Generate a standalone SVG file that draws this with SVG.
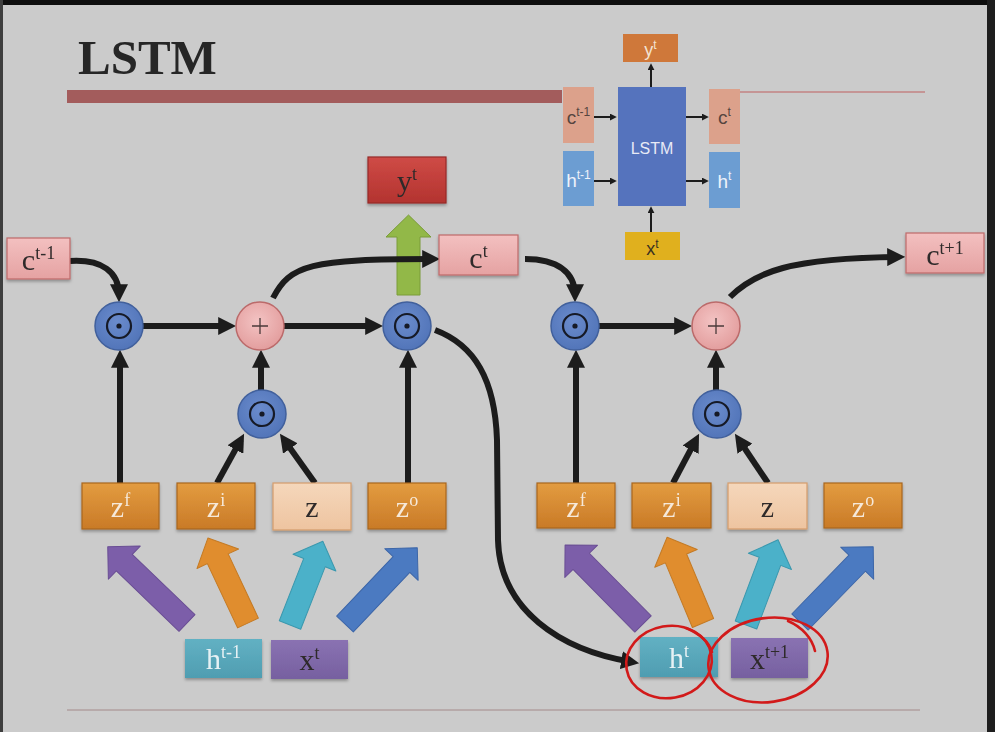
<svg xmlns="http://www.w3.org/2000/svg" width="995" height="732" viewBox="0 0 995 732">
<defs>
<style>
.conn{fill:none;stroke:#1c1c1c;stroke-width:6;marker-end:url(#ah)}
.iconn{fill:none;stroke:#1c1c1c;stroke-width:2;marker-end:url(#ahs)}
.serif{font-family:"Liberation Serif","Times New Roman",serif;font-size:30px;text-anchor:middle}
.sup{font-size:18px}
.sans{font-family:"Liberation Sans",Arial,sans-serif;text-anchor:middle}
.isup{font-size:12px}
.gate{fill:url(#gOrange);stroke:#a8661e;stroke-width:1.2}
.cand{fill:url(#gPeach);stroke:#d49c6c;stroke-width:1.2}
.cell{fill:url(#gPink);stroke:#bf6a6a;stroke-width:1.2}
.light{fill:#f6e9da}
.dark{fill:#2e2a2a}
.mul{fill:url(#gBlue);stroke:#41609c;stroke-width:1.5}
.ring{fill:none;stroke:#161a26;stroke-width:2.2}
.add{fill:url(#gPinkC);stroke:#bb6a6a;stroke-width:1.5}
.plus{stroke:#4a3a3a;stroke-width:1.3}
.fat{stroke-width:1;stroke-linejoin:round}
.red{fill:none;stroke:#d21a1a;stroke-width:2.6;stroke-linecap:round}
</style>
<marker id="ah" viewBox="0 0 10 10" refX="6" refY="5" markerWidth="3" markerHeight="3" orient="auto" markerUnits="strokeWidth"><path d="M0,0 L10,5 L0,10 z" fill="#1c1c1c"/></marker>
<marker id="ahs" viewBox="0 0 10 10" refX="6" refY="5" markerWidth="3.5" markerHeight="3.5" orient="auto" markerUnits="strokeWidth"><path d="M0,0 L10,5 L0,10 z" fill="#1c1c1c"/></marker>
<linearGradient id="gOrange" x1="0" y1="0" x2="0" y2="1"><stop offset="0" stop-color="#e39c40"/><stop offset="1" stop-color="#c97a27"/></linearGradient>
<linearGradient id="gPeach" x1="0" y1="0" x2="0" y2="1"><stop offset="0" stop-color="#f5d7bb"/><stop offset="1" stop-color="#eec4a0"/></linearGradient>
<linearGradient id="gPink" x1="0" y1="0" x2="0" y2="1"><stop offset="0" stop-color="#f3c0c0"/><stop offset="1" stop-color="#e5a2a2"/></linearGradient>
<linearGradient id="gRed" x1="0" y1="0" x2="0" y2="1"><stop offset="0" stop-color="#cf4b46"/><stop offset="1" stop-color="#b3332f"/></linearGradient>
<linearGradient id="gTeal" x1="0" y1="0" x2="0" y2="1"><stop offset="0" stop-color="#62b1c3"/><stop offset="1" stop-color="#4f9db1"/></linearGradient>
<linearGradient id="gPurple" x1="0" y1="0" x2="0" y2="1"><stop offset="0" stop-color="#8a72b2"/><stop offset="1" stop-color="#7660a0"/></linearGradient>
<radialGradient id="gBlue" cx="0.45" cy="0.4" r="0.6"><stop offset="0" stop-color="#6a8bcc"/><stop offset="1" stop-color="#5275b9"/></radialGradient>
<radialGradient id="gPinkC" cx="0.45" cy="0.4" r="0.6"><stop offset="0" stop-color="#f3c3c3"/><stop offset="1" stop-color="#e39e9e"/></radialGradient>
<filter id="sh" x="-10%" y="-10%" width="130%" height="140%"><feDropShadow dx="0" dy="2" stdDeviation="1.5" flood-color="#000" flood-opacity="0.3"/></filter>
</defs>

<rect x="0" y="0" width="995" height="732" fill="#cbcbcb"/>
<rect x="0" y="0" width="995" height="5" fill="#0e0e0e"/>
<rect x="987" y="0" width="8" height="732" fill="#1e1e1e"/>
<rect x="0" y="0" width="3" height="732" fill="#3e3e3e"/>

<g id="title">
<text x="78" y="74" font-family="Liberation Serif,'Times New Roman',serif" font-weight="bold" font-size="49" fill="#262626">LSTM</text>
<rect x="67" y="90" width="495" height="13" fill="#a35c5c"/>
<line x1="740" y1="92" x2="925" y2="92" stroke="#c06060" stroke-width="1.2"/>
<line x1="67" y1="710" x2="920" y2="710" stroke="#a48a8a" stroke-width="1"/>
</g>

<g id="inset">
<g id="inset-y"><rect x="623" y="34" width="55" height="28" fill="#cf783a"/><text x="650.5" y="56" class="sans" font-size="18" fill="#f3e2d2">y<tspan class="isup" dy="-7">t</tspan></text></g>
<g id="inset-lstm"><rect x="618" y="87" width="68" height="119" fill="#5573bd"/><text x="652" y="154" class="sans" font-size="16" fill="#e8eaf6">LSTM</text></g>
<g id="inset-cprev"><rect x="563" y="87" width="31" height="56" fill="#dca18b"/><text x="578.5" y="124" class="sans" font-size="19" fill="#55453f">c<tspan class="isup" dy="-8">t-1</tspan></text></g>
<g id="inset-hprev"><rect x="563" y="151" width="31" height="55" fill="#6c9dd2"/><text x="578.5" y="187" class="sans" font-size="19" fill="#eef2fa">h<tspan class="isup" dy="-8">t-1</tspan></text></g>
<g id="inset-c"><rect x="709" y="89" width="31" height="55" fill="#dca18b"/><text x="724.5" y="124" class="sans" font-size="19" fill="#55453f">c<tspan class="isup" dy="-8">t</tspan></text></g>
<g id="inset-h"><rect x="709" y="152" width="31" height="56" fill="#6c9dd2"/><text x="724.5" y="188" class="sans" font-size="19" fill="#eef2fa">h<tspan class="isup" dy="-8">t</tspan></text></g>
<g id="inset-x"><rect x="625" y="232" width="55" height="28" fill="#e0b01e"/><text x="652.5" y="255" class="sans" font-size="18" fill="#3a3220">x<tspan class="isup" dy="-7">t</tspan></text></g>
</g>

<g id="fat-arrows">
<polygon id="arrow-y" class="fat" fill="#92b848" stroke="#7a9c38" points="397,295 397,237 386,237 408.5,215 431,237 420,237 420,295"/>
<polygon class="fat" fill="#7c5ea9" stroke="#6a4e94" transform="translate(187,623) rotate(-136.1)" points="0,-11.5 87,-11.5 87,-23 110,0 87,23 87,11.5 0,11.5"/>
<polygon class="fat" fill="#e08d2e" stroke="#c47a24" transform="translate(248,623) rotate(-115.2)" points="0,-11.5 71,-11.5 71,-23 94,0 71,23 71,11.5 0,11.5"/>
<polygon class="fat" fill="#4bb1c9" stroke="#3a98ae" transform="translate(290,625) rotate(-68.6)" points="0,-11.5 67,-11.5 67,-23 90,0 67,23 67,11.5 0,11.5"/>
<polygon class="fat" fill="#4b7ac1" stroke="#3d66a8" transform="translate(345,624) rotate(-46.5)" points="0,-11.5 82,-11.5 82,-23 105,0 82,23 82,11.5 0,11.5"/>
<polygon class="fat" fill="#7c5ea9" stroke="#6a4e94" transform="translate(643,624) rotate(-134.6)" points="0,-11.5 88,-11.5 88,-23 111,0 88,23 88,11.5 0,11.5"/>
<polygon class="fat" fill="#e08d2e" stroke="#c47a24" transform="translate(703,623) rotate(-112.7)" points="0,-11.5 70,-11.5 70,-23 93,0 70,23 70,11.5 0,11.5"/>
<polygon class="fat" fill="#4bb1c9" stroke="#3a98ae" transform="translate(746,625) rotate(-69.4)" points="0,-11.5 68,-11.5 68,-23 91,0 68,23 68,11.5 0,11.5"/>
<polygon class="fat" fill="#4b7ac1" stroke="#3d66a8" transform="translate(800,622) rotate(-45.8)" points="0,-11.5 82,-11.5 82,-23 105,0 82,23 82,11.5 0,11.5"/>
</g>

<g id="connectors">
<path class="conn" d="M70,261 C102,259 119,272 119,295"/>
<path class="conn" d="M143,326 L229,326"/>
<path class="conn" d="M284,326 L376,326"/>
<path class="conn" d="M120,483 L120,357"/>
<path class="conn" d="M261,390 L261,357"/>
<path class="conn" d="M408,483 L408,357"/>
<path class="conn" d="M217,483 L240.6,440.1"/>
<path class="conn" d="M315,483 L284.1,439.7"/>
<path class="conn" d="M273,298 C290,265 310,259 433,259"/>
<path class="conn" d="M525,259 C557,259 575,272 575,295"/>
<path class="conn" d="M599,326 L685,326"/>
<path class="conn" d="M576,483 L576,357"/>
<path class="conn" d="M716,390 L716,357"/>
<path class="conn" d="M673,483 L695.7,440.2"/>
<path class="conn" d="M768,483 L738.9,439.8"/>
<path class="conn" d="M730,297 C755,272 790,258 898,257"/>
<path class="conn" d="M435,330 C475,345 495,380 497,440 L498,540 C500,610 560,650 632,662"/>
<path class="iconn" d="M594,117 L614,117"/>
<path class="iconn" d="M594,181 L614,181"/>
<path class="iconn" d="M686,117 L706,117"/>
<path class="iconn" d="M686,181 L706,181"/>
<path class="iconn" d="M651,87 L651,66"/>
<path class="iconn" d="M651,232 L651,209"/>
</g>

<g id="c-prev" filter="url(#sh)"><rect x="7" y="238" width="63" height="41" class="cell"/><text x="38.5" y="270" class="serif dark">c<tspan class="sup" dy="-11">t-1</tspan></text></g>
<g id="y-out" filter="url(#sh)"><rect x="368" y="157" width="78" height="46" fill="url(#gRed)" stroke="#962a28" stroke-width="1.2"/><text x="407" y="191" class="serif dark">y<tspan class="sup" dy="-11">t</tspan></text></g>
<g id="c-cur" filter="url(#sh)"><rect x="439" y="235" width="79" height="40" class="cell"/><text x="478.5" y="268" class="serif dark">c<tspan class="sup" dy="-11">t</tspan></text></g>
<g id="c-next" filter="url(#sh)"><rect x="906" y="233" width="78" height="40" class="cell"/><text x="945" y="265" class="serif dark">c<tspan class="sup" dy="-11">t+1</tspan></text></g>

<g id="mul-f1"><circle cx="119" cy="326" r="24" class="mul"/><circle cx="119" cy="326" r="12" class="ring"/><circle cx="119" cy="326" r="2.6" fill="#161a26"/></g>
<g id="add-1"><circle cx="260" cy="326" r="24" class="add"/><path class="plus" d="M252,326 H268 M260,318 V334"/></g>
<g id="mul-o1"><circle cx="407" cy="326" r="24" class="mul"/><circle cx="407" cy="326" r="12" class="ring"/><circle cx="407" cy="326" r="2.6" fill="#161a26"/></g>
<g id="mul-i1"><circle cx="262" cy="414" r="24" class="mul"/><circle cx="262" cy="414" r="12" class="ring"/><circle cx="262" cy="414" r="2.6" fill="#161a26"/></g>
<g id="mul-f2"><circle cx="575" cy="326" r="24" class="mul"/><circle cx="575" cy="326" r="12" class="ring"/><circle cx="575" cy="326" r="2.6" fill="#161a26"/></g>
<g id="add-2"><circle cx="716" cy="326" r="24" class="add"/><path class="plus" d="M708,326 H724 M716,318 V334"/></g>
<g id="mul-i2"><circle cx="717" cy="414" r="24" class="mul"/><circle cx="717" cy="414" r="12" class="ring"/><circle cx="717" cy="414" r="2.6" fill="#161a26"/></g>

<g id="zf1" filter="url(#sh)"><rect x="82" y="483" width="77" height="46" class="gate"/><text x="120.5" y="517" class="serif light">z<tspan class="sup" dy="-11">f</tspan></text></g>
<g id="zi1" filter="url(#sh)"><rect x="177" y="483" width="78" height="46" class="gate"/><text x="216" y="517" class="serif light">z<tspan class="sup" dy="-11">i</tspan></text></g>
<g id="z1" filter="url(#sh)"><rect x="273" y="483" width="78" height="47" class="cand"/><text x="312" y="517" class="serif dark">z</text></g>
<g id="zo1" filter="url(#sh)"><rect x="368" y="483" width="78" height="46" class="gate"/><text x="407" y="517" class="serif light">z<tspan class="sup" dy="-11">o</tspan></text></g>
<g id="zf2" filter="url(#sh)"><rect x="537" y="483" width="78" height="45" class="gate"/><text x="576" y="517" class="serif light">z<tspan class="sup" dy="-11">f</tspan></text></g>
<g id="zi2" filter="url(#sh)"><rect x="632" y="483" width="79" height="45" class="gate"/><text x="671.5" y="517" class="serif light">z<tspan class="sup" dy="-11">i</tspan></text></g>
<g id="z2" filter="url(#sh)"><rect x="728" y="483" width="79" height="46" class="cand"/><text x="767.5" y="517" class="serif dark">z</text></g>
<g id="zo2" filter="url(#sh)"><rect x="824" y="483" width="78" height="45" class="gate"/><text x="863" y="517" class="serif light">z<tspan class="sup" dy="-11">o</tspan></text></g>

<g id="h-prev" filter="url(#sh)"><rect x="185" y="639" width="77" height="39" fill="url(#gTeal)"/><text x="223.5" y="669" class="serif" fill="#e6f1f4">h<tspan class="sup" dy="-11">t-1</tspan></text></g>
<g id="x-cur" filter="url(#sh)"><rect x="271" y="640" width="77" height="39" fill="url(#gPurple)"/><text x="309.5" y="670" class="serif dark">x<tspan class="sup" dy="-11">t</tspan></text></g>
<g id="h-cur" filter="url(#sh)"><rect x="640" y="637" width="78" height="40" fill="url(#gTeal)"/><text x="679" y="668" class="serif" fill="#e6f1f4">h<tspan class="sup" dy="-11">t</tspan></text></g>
<g id="x-next" filter="url(#sh)"><rect x="731" y="638" width="77" height="40" fill="url(#gPurple)"/><text x="769.5" y="669" class="serif dark">x<tspan class="sup" dy="-11">t+1</tspan></text></g>

<g id="annotation">
<ellipse class="red" cx="669" cy="662" rx="43" ry="36" transform="rotate(-10 669 662)"/>
<path class="red" d="M686,628 C700,634 709,642 712,652"/>
<ellipse class="red" cx="768" cy="660" rx="60" ry="42" transform="rotate(-8 768 660)"/>
<path class="red" d="M788,621 C802,627 812,638 815,651"/>
</g>
</svg>
